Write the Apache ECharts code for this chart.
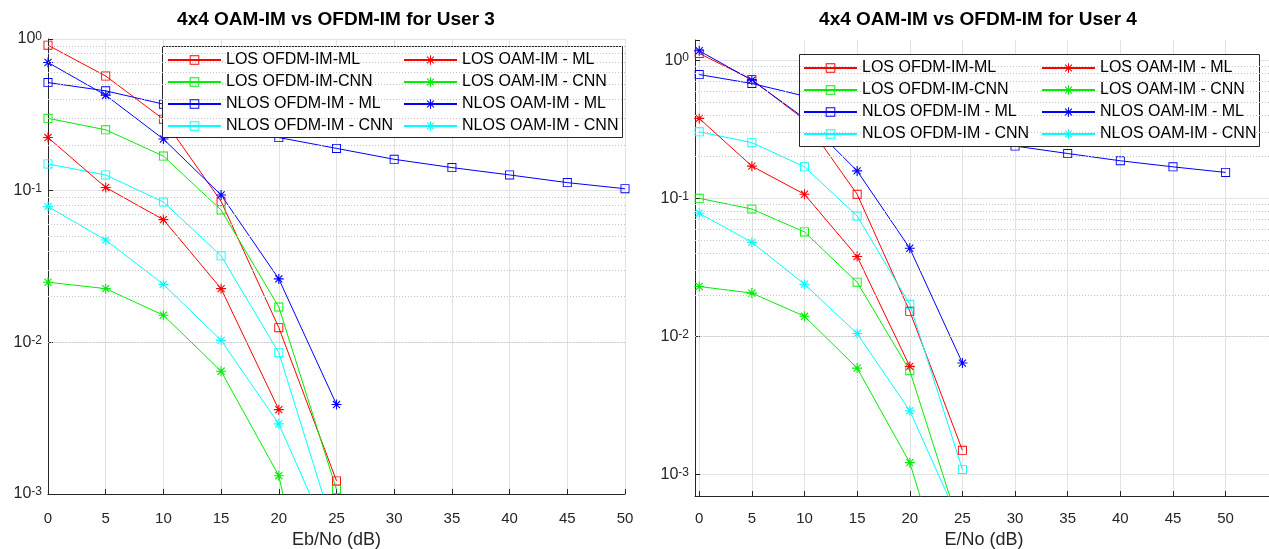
<!DOCTYPE html>
<html><head><meta charset="utf-8">
<script src="https://cdn.jsdelivr.net/npm/echarts@6/dist/echarts.min.js"></script>
<style>html,body{margin:0;padding:0;background:#fff}#c{width:1269px;height:549px}</style>
</head><body><div id="c"></div>
<script>
// ---------- data ----------
const snr = [0, 5, 10, 15, 20, 25, 30, 35, 40, 45, 50];
const xTickValues = [0, 5, 10, 15, 20, 25, 30, 35, 40, 45, 50];
const seriesNames = [
  'LOS OFDM-IM-ML', 'LOS OFDM-IM-CNN', 'NLOS OFDM-IM - ML', 'NLOS OFDM-IM - CNN',
  'LOS OAM-IM - ML', 'LOS OAM-IM - CNN', 'NLOS OAM-IM - ML', 'NLOS OAM-IM - CNN'
];
// User 3
const u3LosOfdmMl   = [0.91, 0.57, 0.296, 0.085, 0.0125, 0.00122];
const u3LosOfdmCnn  = [0.30, 0.252, 0.169, 0.0746, 0.0171, 0.00107];
const u3NlosOfdmMl  = [0.516, 0.455, 0.372, 0.285, 0.224, 0.19, 0.161, 0.142, 0.127, 0.113, 0.103];
const u3NlosOfdmCnn = [0.150, 0.127, 0.0842, 0.0372, 0.00855, 0.00051];
const u3LosOamMl    = [0.224, 0.105, 0.0644, 0.0226, 0.0036];
const u3LosOamCnn   = [0.0249, 0.0226, 0.0151, 0.00645, 0.00132, 0.000026];
const u3NlosOamMl   = [0.70, 0.426, 0.219, 0.0937, 0.0262, 0.00389];
const u3NlosOamCnn  = [0.0785, 0.0473, 0.0241, 0.0103, 0.0029, 0.0004];
// User 4
const u4LosOfdmMl   = [1.12, 0.725, 0.37, 0.107, 0.0152, 0.0015];
const u4LosOfdmCnn  = [0.1, 0.0837, 0.0571, 0.0247, 0.00565, 0.00036];
const u4NlosOfdmMl  = [0.787, 0.678, 0.55, 0.45, 0.36, 0.29, 0.239, 0.211, 0.187, 0.169, 0.154];
const u4NlosOfdmCnn = [0.303, 0.253, 0.169, 0.0745, 0.0171, 0.00109];
const u4LosOamMl    = [0.379, 0.171, 0.107, 0.0379, 0.00607];
const u4LosOamCnn   = [0.023, 0.0206, 0.014, 0.0059, 0.00122, 0.00007];
const u4NlosOamMl   = [1.17, 0.717, 0.38, 0.158, 0.0435, 0.00642];
const u4NlosOamCnn  = [0.078, 0.048, 0.0239, 0.0105, 0.0029, 0.00041];
// minor (dotted) grid positions
const minorGridU3 = [0.002,0.003,0.004,0.005,0.006,0.007,0.008,0.009,
                     0.02,0.03,0.04,0.05,0.06,0.07,0.08,0.09,
                     0.2,0.3,0.4,0.5,0.6,0.7,0.8,0.9];
const minorGridU4 = [0.0008,0.0009,
                     0.002,0.003,0.004,0.005,0.006,0.007,0.008,0.009,
                     0.02,0.03,0.04,0.05,0.06,0.07,0.08,0.09,
                     0.2,0.3,0.4,0.5,0.6,0.7,0.8,0.9];

// ---------- style ----------
const FONT = "'Liberation Sans', Arial, Helvetica, sans-serif";
const AX = '#262626';
const GRID = '#e2e2e2';
const colors = ['#ff0000', '#00ee00', '#0000ff', '#00ffff'];
const SQ = 'path://M-10,-10L10,-10L10,-8L-10,-8Z M-10,8L10,8L10,10L-10,10Z M-10,-8L-8,-8L-8,8L-10,8Z M8,-8L10,-8L10,8L8,8Z';
const STAR = 'path://M-1.1,-10L1.1,-10L1.1,10L-1.1,10Z M-10,-1.1L10,-1.1L10,1.1L-10,1.1Z ' +
  'M-6.29,-7.85L7.85,6.29L6.29,7.85L-7.85,-6.29Z M7.85,-6.29L-6.29,7.85L-7.85,6.29L6.29,-7.85Z';

function mk(name, vals, color, symbol, idx) {
  const data = [];
  snr.forEach((x, i) => { if (vals[i] != null) data.push([x, vals[i]]); });
  return {
    type: 'line', name, data, xAxisIndex: idx, yAxisIndex: idx,
    symbol, symbolSize: symbol === STAR ? 10 : 9, showAllSymbol: true, z: 3, clip: true,
    lineStyle: { color, width: 1 }, itemStyle: { color, borderWidth: 0 },
    emphasis: { disabled: true }
  };
}
function minorSeries(vals, idx) {
  return {
    type: 'line', data: [], xAxisIndex: idx, yAxisIndex: idx, z: 1, silent: true,
    markLine: {
      silent: true, symbol: ['none', 'none'], label: { show: false }, animation: false,
      lineStyle: { type: [1, 2], color: '#c4c4c4', width: 1 },
      emphasis: { disabled: true },
      data: vals.map(v => ({ yAxis: v }))
    }
  };
}
function powLabel(v) {
  const e = Math.log10(v), r = Math.round(e);
  if (Math.abs(e - r) > 1e-6) return '';
  return '{b|10}{s|' + r + '}';
}
const yLabel = {
  formatter: powLabel, margin: 6, color: AX,
  rich: {
    b: { fontSize: 16, lineHeight: 16, verticalAlign: 'bottom', fontFamily: FONT, color: AX },
    s: { fontSize: 12, lineHeight: 12, verticalAlign: 'top', padding: [0, 0, 10, 0], fontFamily: FONT, color: AX }
  }
};
function xAxis(idx, name, min, max, gap, margin, custom) {
  const a = {
    gridIndex: idx, type: 'value', min, max, name, nameLocation: 'middle', nameGap: gap,
    nameTextStyle: { fontSize: 18, color: AX, fontFamily: FONT },
    axisLine: { show: true, onZero: false, lineStyle: { color: AX, width: 1 } },
    axisTick: { show: true, inside: true, length: 5, lineStyle: { color: AX } },
    axisLabel: { fontSize: 15, color: AX, margin, fontFamily: FONT },
    splitLine: { show: true, lineStyle: { color: GRID, width: 1 } }
  };
  if (custom) {
    a.axisLabel.customValues = xTickValues;
    a.axisTick.customValues = xTickValues;
  } else {
    a.interval = 5;
  }
  return a;
}
function yAxis(idx, min, max) {
  return {
    gridIndex: idx, type: 'log', logBase: 10, min, max,
    axisLine: { show: true, onZero: false, lineStyle: { color: AX, width: 1 } },
    axisTick: { show: true, inside: true, length: 5, lineStyle: { color: AX } },
    axisLabel: yLabel,
    splitLine: { show: true, showMaxLine: idx === 0, lineStyle: { color: GRID, width: 1 } }
  };
}
function legend(names, left, top) {
  return {
    data: names, orient: 'vertical', left, top, padding: 0,
    itemWidth: 53, itemHeight: 12, itemGap: 6, selectedMode: false, z: 6,
    textStyle: { fontSize: 16, color: '#000', fontFamily: FONT }
  };
}

const u3 = [u3LosOfdmMl, u3LosOfdmCnn, u3NlosOfdmMl, u3NlosOfdmCnn, u3LosOamMl, u3LosOamCnn, u3NlosOamMl, u3NlosOamCnn];
const u4 = [u4LosOfdmMl, u4LosOfdmCnn, u4NlosOfdmMl, u4NlosOfdmCnn, u4LosOamMl, u4LosOamCnn, u4NlosOamMl, u4NlosOamCnn];
const series = [minorSeries(minorGridU3, 0), minorSeries(minorGridU4, 1)];
[u3, u4].forEach((set, idx) => {
  set.forEach((vals, k) => {
    series.push(mk(seriesNames[k], vals, colors[k % 4], k < 4 ? SQ : STAR, idx));
  });
});

const option = {
  animation: false,
  backgroundColor: '#fff',
  textStyle: { fontFamily: FONT },
  title: [
    { text: '4x4 OAM-IM vs OFDM-IM for User 3', left: 336, top: 10, textAlign: 'center', padding: 0,
      textStyle: { fontSize: 19, fontWeight: 'bold', color: '#000', fontFamily: FONT } },
    { text: '4x4 OAM-IM vs OFDM-IM for User 4', left: 978, top: 10, textAlign: 'center', padding: 0,
      textStyle: { fontSize: 19, fontWeight: 'bold', color: '#000', fontFamily: FONT } }
  ],
  grid: [
    { left: 48, right: 644, top: 39, bottom: 55, outerBoundsMode: 'none', containLabel: false },
    { left: 695, right: -4, top: 40, bottom: 53, outerBoundsMode: 'none', containLabel: false }
  ],
  xAxis: [
    xAxis(0, 'Eb/No (dB)', 0, 50, 37, 17, false),
    xAxis(1, 'E/No (dB)', -0.4, 54.5, 35, 15, true)
  ],
  yAxis: [
    yAxis(0, 0.001, 1),
    yAxis(1, 0.0007, 1.4)
  ],
  legend: [
    legend(seriesNames.slice(0, 4), 167, 52),
    legend(seriesNames.slice(4), 403, 52),
    legend(seriesNames.slice(0, 4), 803, 60),
    legend(seriesNames.slice(4), 1041, 60)
  ],
  graphic: [
    { type: 'rect', z: 5, shape: { x: 162.5, y: 46.5, width: 460, height: 91 },
      style: { fill: '#fff', stroke: AX, lineWidth: 1 } },
    { type: 'rect', z: 5, shape: { x: 799.5, y: 54.5, width: 460, height: 92 },
      style: { fill: '#fff', stroke: AX, lineWidth: 1 } }
  ],
  series
};
const chart = echarts.init(document.getElementById('c'), null, { renderer: 'canvas' });
chart.setOption(option);
</script>
</body></html>
